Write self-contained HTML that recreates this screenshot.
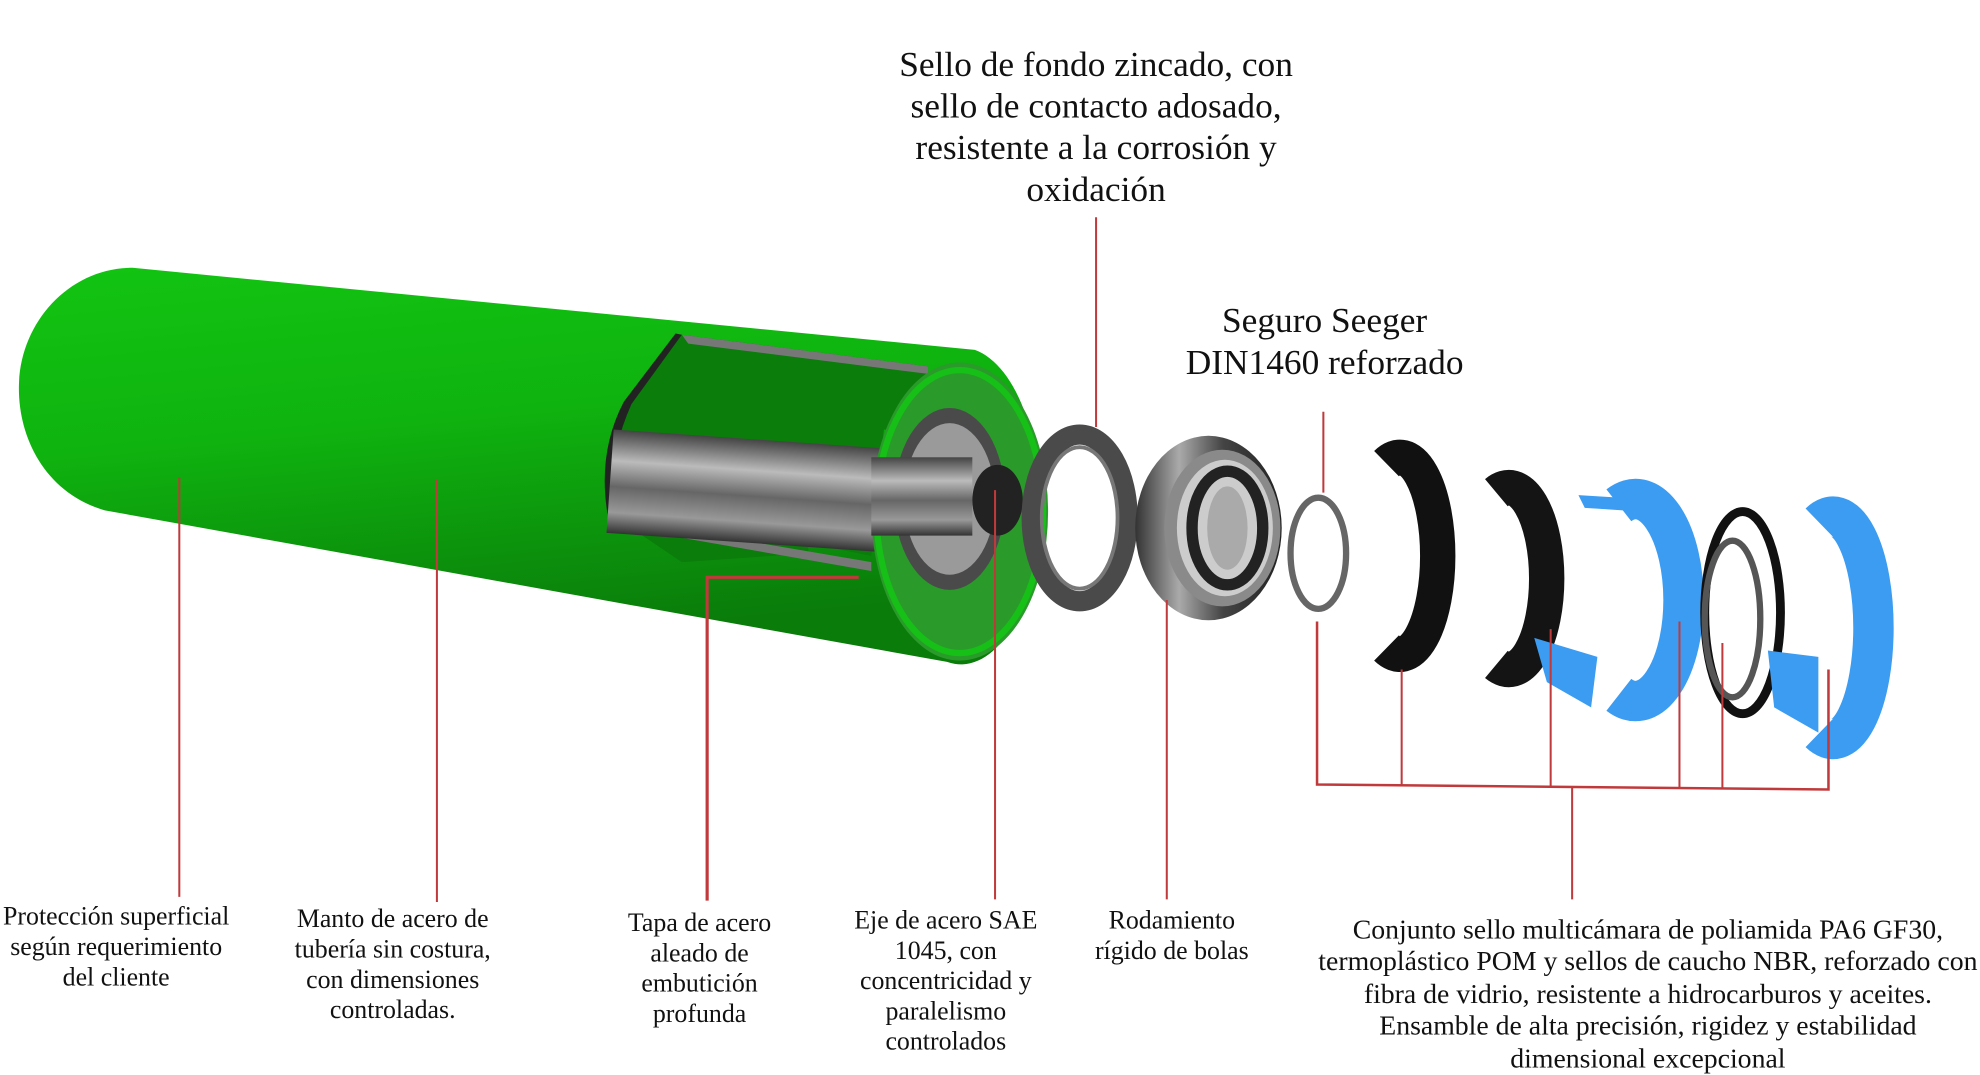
<!DOCTYPE html>
<html><head><meta charset="utf-8">
<style>
html,body{margin:0;padding:0;background:#fff;}
svg{display:block;}
text{font-family:"Liberation Serif",serif;fill:#111;}
</style></head>
<body>
<svg width="1980" height="1075" viewBox="0 0 1568 851" preserveAspectRatio="none" xmlns="http://www.w3.org/2000/svg">
<defs>
<linearGradient id="gc" x1="0" y1="0" x2="0.25" y2="1">
<stop offset="0" stop-color="#12c412"/><stop offset="0.45" stop-color="#0fb30f"/><stop offset="1" stop-color="#0a7c0a"/>
</linearGradient>
<linearGradient id="shaft" x1="0" y1="0" x2="0" y2="1">
<stop offset="0" stop-color="#444"/><stop offset="0.3" stop-color="#bbb"/><stop offset="0.55" stop-color="#666"/><stop offset="0.8" stop-color="#999"/><stop offset="1" stop-color="#333"/>
</linearGradient>
<linearGradient id="brg" x1="0" y1="0" x2="1" y2="0">
<stop offset="0" stop-color="#333"/><stop offset="0.3" stop-color="#aaa"/><stop offset="0.6" stop-color="#444"/><stop offset="1" stop-color="#222"/>
</linearGradient>
</defs>

<!-- cylinder -->
<path d="M105,212 L772,277 A62,124 0 0 1 750,524 L83,404 C35,390 14,345 15,305 C16,255 55,212 105,212 Z" fill="url(#gc)"/>
<!-- cutaway -->
<path d="M540,265 L735,290 L735,345 L700,340 L690,440 L640,430 L640,438 L540,445 L488,410 Q478,350 500,320 Z" fill="#0a7d0a"/>
<path d="M540,265 L500,320 Q478,370 488,410 L482,412 Q472,360 494,318 L535,264 Z" fill="#222"/>
<path d="M540,265 L735,290 L735,296 L545,272 Z" fill="#777"/>
<path d="M484,410 L690,445 L690,452 L484,416 Z" fill="#777"/>
<rect x="486" y="340" width="300" height="82" fill="url(#shaft)" transform="rotate(4 486 340)"/>
<!-- end face -->
<ellipse cx="760" cy="405" rx="70" ry="118" fill="#2a9a2a"/>
<ellipse cx="760" cy="405" rx="66" ry="112" fill="none" stroke="#16c016" stroke-width="5"/>
<ellipse cx="752" cy="395" rx="44" ry="72" fill="#4a4a4a"/>
<ellipse cx="752" cy="395" rx="36" ry="60" fill="#9a9a9a"/>
<rect x="690" y="362" width="80" height="62" fill="url(#shaft)"/>
<ellipse cx="790" cy="396" rx="20" ry="28" fill="#222"/>

<!-- seal zincado -->
<ellipse cx="855" cy="410" rx="38" ry="66" fill="none" stroke="#4a4a4a" stroke-width="16"/>
<ellipse cx="855" cy="410" rx="30" ry="56" fill="none" stroke="#777" stroke-width="3"/>
<!-- bearing -->
<ellipse cx="957" cy="418" rx="58" ry="73" fill="url(#brg)"/>
<ellipse cx="968" cy="418" rx="46" ry="62" fill="#8a8a8a"/>
<ellipse cx="970" cy="418" rx="38" ry="54" fill="#ccc"/>
<ellipse cx="972" cy="418" rx="28" ry="45" fill="none" stroke="#222" stroke-width="9"/>
<ellipse cx="972" cy="418" rx="16" ry="33" fill="#aaa"/>
<!-- seeger -->
<ellipse cx="1044" cy="438" rx="22" ry="44" fill="none" stroke="#666" stroke-width="5"/>
<!-- black seals -->
<path d="M1098,367 A30,78 0 1 1 1098,513" fill="none" stroke="#111" stroke-width="28"/>
<path d="M1185,390 A30,72 0 1 1 1185,526" fill="none" stroke="#141414" stroke-width="28"/>
<!-- blue 1 -->
<path d="M1282,400 A38,80 0 1 1 1282,550" fill="none" stroke="#3b9cf2" stroke-width="32"/>
<path d="M1250,392 L1300,395 L1300,405 L1255,402 Z" fill="#3b9cf2"/>
<path d="M1215,505 L1265,520 L1260,560 L1225,540 Z" fill="#3b9cf2"/>
<!-- rings -->
<ellipse cx="1380" cy="485" rx="30" ry="80" fill="none" stroke="#111" stroke-width="7"/>
<ellipse cx="1372" cy="490" rx="22" ry="62" fill="none" stroke="#555" stroke-width="5"/>
<!-- blue 2 -->
<path d="M1441,414 A32,88 0 1 1 1441,580" fill="none" stroke="#3b9cf2" stroke-width="32"/>
<path d="M1400,515 L1440,520 L1440,580 L1405,560 Z" fill="#3b9cf2"/>

<!-- leader lines -->
<g stroke="#c0393b" stroke-width="1.6" fill="none">
<line x1="142" y1="378" x2="142" y2="710"/>
<line x1="346" y1="380" x2="346" y2="714"/>
<polyline points="680,457 560,457 560,713" stroke-width="2.5"/>
<line x1="788" y1="388" x2="788" y2="712"/>
<line x1="868" y1="172" x2="868" y2="338"/>
<line x1="1048" y1="326" x2="1048" y2="390"/>
<line x1="924" y1="475" x2="924" y2="712"/>
<polyline points="1043,492 1043,621 1448,625 1448,530" stroke-width="2"/>
<line x1="1110" y1="530" x2="1110" y2="622"/>
<line x1="1228" y1="498" x2="1228" y2="623"/>
<line x1="1330" y1="492" x2="1330" y2="624"/>
<line x1="1364" y1="509" x2="1364" y2="624"/>
<line x1="1245" y1="623" x2="1245" y2="712"/>
</g>

<!-- labels -->
<g font-size="28" text-anchor="middle">
<text x="868" y="60">Sello de fondo zincado, con</text>
<text x="868" y="93">sello de contacto adosado,</text>
<text x="868" y="126">resistente a la corrosión y</text>
<text x="868" y="159">oxidación</text>
<text x="1049" y="263">Seguro Seeger</text>
<text x="1049" y="296">DIN1460 reforzado</text>
</g>
<g font-size="20.5" text-anchor="middle">
<text x="92" y="732">Protección superficial</text>
<text x="92" y="756">según requerimiento</text>
<text x="92" y="780">del cliente</text>
<text x="311" y="734">Manto de acero de</text>
<text x="311" y="758">tubería sin costura,</text>
<text x="311" y="782">con dimensiones</text>
<text x="311" y="806">controladas.</text>
<text x="554" y="737">Tapa de acero</text>
<text x="554" y="761">aleado de</text>
<text x="554" y="785">embutición</text>
<text x="554" y="809">profunda</text>
<text x="749" y="735">Eje de acero SAE</text>
<text x="749" y="759">1045, con</text>
<text x="749" y="783">concentricidad y</text>
<text x="749" y="807">paralelismo</text>
<text x="749" y="831">controlados</text>
<text x="928" y="735">Rodamiento</text>
<text x="928" y="759">rígido de bolas</text>
</g>
<g font-size="22" text-anchor="middle">
<text x="1305" y="743">Conjunto sello multicámara de poliamida PA6 GF30,</text>
<text x="1305" y="768">termoplástico POM y sellos de caucho NBR, reforzado con</text>
<text x="1305" y="794">fibra de vidrio, resistente a hidrocarburos y aceites.</text>
<text x="1305" y="819">Ensamble de alta precisión, rigidez y estabilidad</text>
<text x="1305" y="845">dimensional excepcional</text>
</g>
</svg>
</body></html>
